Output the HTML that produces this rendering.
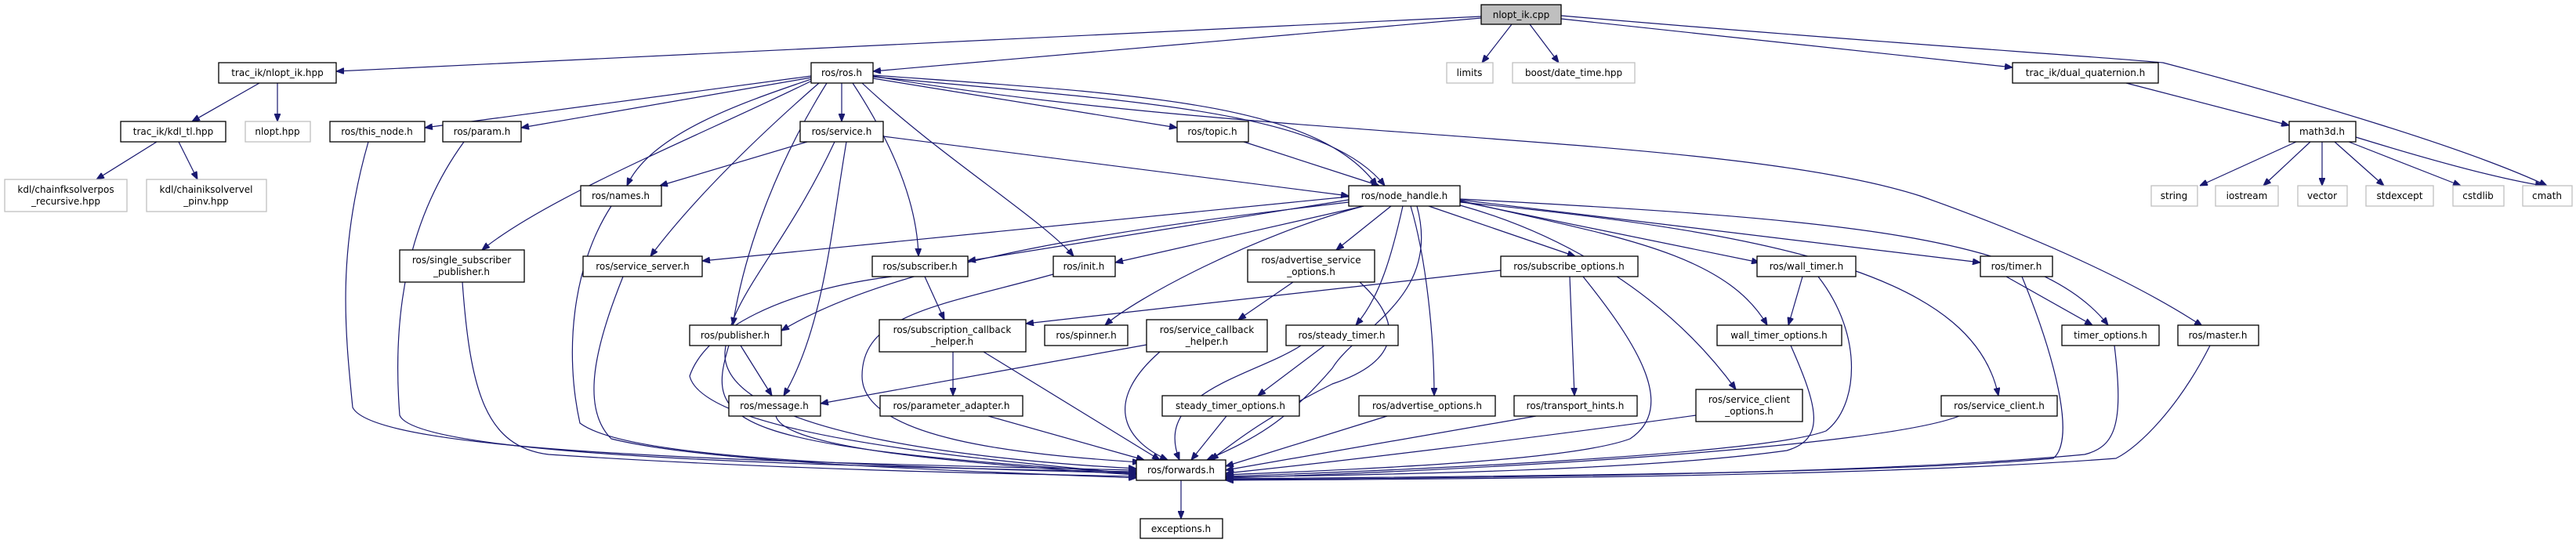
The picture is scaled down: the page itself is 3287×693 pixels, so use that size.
<!DOCTYPE html>
<html><head><meta charset="utf-8"><style>
html,body{margin:0;padding:0;background:#fff;}
svg{display:block;}
text{font-family:"DejaVu Sans","Liberation Sans",sans-serif;font-size:12px;fill:#000;}
.n{fill:#fff;stroke:#000;stroke-width:1.3;}
.g{fill:#fff;stroke:#bfbfbf;stroke-width:1.3;}
.e{fill:none;stroke:#191970;stroke-width:1.2;marker-end:url(#a);}
</style></head><body>
<svg width="3287" height="693" viewBox="0 0 3287 693" xmlns="http://www.w3.org/2000/svg">
<defs><marker id="a" viewBox="0 0 10 8" refX="10" refY="4" markerWidth="10" markerHeight="8" markerUnits="userSpaceOnUse" orient="auto"><path d="M0,0 L10,4 L0,8 z" fill="#191970" stroke="#191970"/></marker></defs>
<g>
<path class="e" d="M1890,21 L429,91"/>
<path class="e" d="M1890,23 L1114,91"/>
<path class="e" d="M1929,31 L1891,80"/>
<path class="e" d="M1952,31 L1989,80"/>
<path class="e" d="M1992,24 L2568,86"/>
<path class="e" d="M1992,20 C2400,55 2650,70 2760,80 C2950,130 3150,190 3250,237"/>
<path class="e" d="M331,106 L245,155"/>
<path class="e" d="M354,106 L354,155"/>
<path class="e" d="M200,181 L123,229"/>
<path class="e" d="M228,181 L252,229"/>
<path class="e" d="M1035,97 L542,163"/>
<path class="e" d="M1035,99 L665,163"/>
<path class="e" d="M1074,106 L1074,155"/>
<path class="e" d="M1038,100 C950,130 830,170 800,237"/>
<path class="e" d="M1036,103 C900,170 700,250 615,319"/>
<path class="e" d="M1045,106 C960,180 880,260 830,327"/>
<path class="e" d="M1055,106 C990,210 950,320 935,415"/>
<path class="e" d="M1088,106 C1130,170 1170,250 1172,327"/>
<path class="e" d="M1100,106 C1200,200 1330,280 1370,327"/>
<path class="e" d="M1114,100 L1502,163"/>
<path class="e" d="M1114,96 C1450,120 1680,130 1757,237"/>
<path class="e" d="M1114,98 C1450,130 1690,140 1767,237"/>
<path class="e" d="M1114,97 C1600,180 2200,170 2450,250 C2620,310 2740,370 2810,416"/>
<path class="e" d="M1030,181 L842,237"/>
<path class="e" d="M1127,174 L1721,250"/>
<path class="e" d="M1080,181 C1060,300 1050,420 1000,505"/>
<path class="e" d="M1065,181 C1000,320 930,380 925,450 C920,560 1300,590 1450,598"/>
<path class="e" d="M1587,181 L1760,237"/>
<path class="e" d="M2713,106 L2921,160"/>
<path class="e" d="M2930,181 L2807,237"/>
<path class="e" d="M2948,181 L2888,237"/>
<path class="e" d="M2963,181 L2963,237"/>
<path class="e" d="M2979,181 L3042,237"/>
<path class="e" d="M2997,181 L3140,237"/>
<path class="e" d="M3006,175 C3120,210 3200,230 3245,237"/>
<path class="e" d="M1721,251 L896,333"/>
<path class="e" d="M1721,255 L1235,333"/>
<path class="e" d="M1740,263 L1423,335"/>
<path class="e" d="M1721,258 C1450,290 1150,330 997,422"/>
<path class="e" d="M1740,263 C1600,300 1450,380 1410,415"/>
<path class="e" d="M1775,263 L1705,319"/>
<path class="e" d="M1790,263 C1775,330 1760,380 1730,415"/>
<path class="e" d="M1800,263 C1820,330 1830,430 1830,505"/>
<path class="e" d="M1823,263 L2010,327"/>
<path class="e" d="M1863,262 C2000,300 2130,380 2215,497"/>
<path class="e" d="M1863,256 C2050,300 2200,320 2255,415"/>
<path class="e" d="M1863,257 L2245,335"/>
<path class="e" d="M1863,255 L2527,335"/>
<path class="e" d="M1863,254 C2350,280 2600,300 2690,415"/>
<path class="e" d="M1863,258 C2300,300 2520,360 2550,505"/>
<path class="e" d="M1808,263 C1840,380 1730,420 1700,470 C1640,540 1600,560 1540,587"/>
<path class="e" d="M1650,360 L1580,408"/>
<path class="e" d="M1735,360 C1790,410 1790,460 1700,490 C1620,530 1580,560 1545,587"/>
<path class="e" d="M1463,440 L1047,515"/>
<path class="e" d="M1480,449 C1410,510 1430,560 1490,587"/>
<path class="e" d="M1180,353 L1205,408"/>
<path class="e" d="M1216,449 L1216,505"/>
<path class="e" d="M1255,449 L1480,587"/>
<path class="e" d="M1261,531 L1460,587"/>
<path class="e" d="M945,441 L985,505"/>
<path class="e" d="M930,441 C900,540 920,570 1450,604"/>
<path class="e" d="M990,531 C1000,570 1200,590 1450,606"/>
<path class="e" d="M1690,441 L1605,505"/>
<path class="e" d="M1660,441 C1600,480 1470,500 1505,587"/>
<path class="e" d="M1565,531 L1520,587"/>
<path class="e" d="M1770,531 L1564,595"/>
<path class="e" d="M1960,531 L1564,600"/>
<path class="e" d="M2164,530 C1950,560 1700,590 1564,604"/>
<path class="e" d="M2003,353 L2009,505"/>
<path class="e" d="M2020,353 C2090,440 2140,520 2080,560 C2000,590 1700,600 1564,606"/>
<path class="e" d="M1915,345 L1309,413"/>
<path class="e" d="M2300,353 L2282,415"/>
<path class="e" d="M2320,353 C2380,430 2370,520 2330,550 C2250,580 1800,600 1564,608"/>
<path class="e" d="M2285,441 C2320,520 2330,560 2280,575 C2100,600 1800,605 1564,609"/>
<path class="e" d="M2500,531 C2400,570 1900,600 1564,610"/>
<path class="e" d="M2580,353 C2620,450 2650,560 2620,585 C2400,605 1900,608 1564,611"/>
<path class="e" d="M2560,353 L2670,415"/>
<path class="e" d="M2698,441 C2710,540 2700,570 2660,580 C2400,605 1900,610 1564,612"/>
<path class="e" d="M2820,441 C2780,520 2730,570 2700,585 C2400,608 1900,611 1564,613"/>
<path class="e" d="M470,181 C430,320 440,420 450,520 C480,580 1000,590 1450,600"/>
<path class="e" d="M592,181 C520,280 500,400 510,530 C530,580 1000,595 1450,602"/>
<path class="e" d="M780,263 C730,340 720,450 740,540 C800,585 1100,595 1450,604"/>
<path class="e" d="M590,360 C600,500 620,570 700,580 C1000,600 1300,605 1450,608"/>
<path class="e" d="M795,353 C760,440 740,520 780,560 C900,590 1200,600 1450,610"/>
<path class="e" d="M1138,353 C1000,370 900,420 880,480 C900,560 1300,590 1450,605"/>
<path class="e" d="M1344,350 C1200,390 1100,400 1100,480 C1100,560 1300,580 1455,590"/>
<path class="e" d="M1507,613 L1507,662"/>
</g>
<rect x="1890" y="6" width="102" height="25" fill="#bfbfbf" stroke="#000" stroke-width="1.3"/><text x="1941" y="23" text-anchor="middle">nlopt_ik.cpp</text>
<rect class="n" x="279" y="80" width="150" height="26"/><text x="354" y="97" text-anchor="middle">trac_ik/nlopt_ik.hpp</text>
<rect class="n" x="1035" y="80" width="79" height="26"/><text x="1074" y="97" text-anchor="middle">ros/ros.h</text>
<rect class="g" x="1846" y="80" width="59" height="26"/><text x="1875" y="97" text-anchor="middle">limits</text>
<rect class="g" x="1930" y="80" width="156" height="26"/><text x="2008" y="97" text-anchor="middle">boost/date_time.hpp</text>
<rect class="n" x="2568" y="80" width="186" height="26"/><text x="2661" y="97" text-anchor="middle">trac_ik/dual_quaternion.h</text>
<rect class="n" x="154" y="155" width="134" height="26"/><text x="221" y="172" text-anchor="middle">trac_ik/kdl_tl.hpp</text>
<rect class="g" x="313" y="155" width="83" height="26"/><text x="354" y="172" text-anchor="middle">nlopt.hpp</text>
<rect class="n" x="421" y="155" width="121" height="26"/><text x="481" y="172" text-anchor="middle">ros/this_node.h</text>
<rect class="n" x="565" y="155" width="100" height="26"/><text x="615" y="172" text-anchor="middle">ros/param.h</text>
<rect class="n" x="1021" y="155" width="106" height="26"/><text x="1074" y="172" text-anchor="middle">ros/service.h</text>
<rect class="n" x="1502" y="155" width="91" height="26"/><text x="1547" y="172" text-anchor="middle">ros/topic.h</text>
<rect class="n" x="2921" y="155" width="85" height="26"/><text x="2963" y="172" text-anchor="middle">math3d.h</text>
<rect class="g" x="6" y="229" width="156" height="41"/><text x="84" y="246" text-anchor="middle">kdl/chainfksolverpos</text><text x="84" y="261" text-anchor="middle">_recursive.hpp</text>
<rect class="g" x="187" y="229" width="153" height="41"/><text x="263" y="246" text-anchor="middle">kdl/chainiksolvervel</text><text x="263" y="261" text-anchor="middle">_pinv.hpp</text>
<rect class="n" x="741" y="237" width="103" height="26"/><text x="792" y="254" text-anchor="middle">ros/names.h</text>
<rect class="n" x="1721" y="237" width="142" height="26"/><text x="1792" y="254" text-anchor="middle">ros/node_handle.h</text>
<rect class="g" x="2745" y="237" width="59" height="26"/><text x="2774" y="254" text-anchor="middle">string</text>
<rect class="g" x="2827" y="237" width="80" height="26"/><text x="2867" y="254" text-anchor="middle">iostream</text>
<rect class="g" x="2932" y="237" width="63" height="26"/><text x="2963" y="254" text-anchor="middle">vector</text>
<rect class="g" x="3019" y="237" width="86" height="26"/><text x="3062" y="254" text-anchor="middle">stdexcept</text>
<rect class="g" x="3130" y="237" width="65" height="26"/><text x="3162" y="254" text-anchor="middle">cstdlib</text>
<rect class="g" x="3219" y="237" width="63" height="26"/><text x="3250" y="254" text-anchor="middle">cmath</text>
<rect class="n" x="510" y="319" width="159" height="41"/><text x="589" y="336" text-anchor="middle">ros/single_subscriber</text><text x="589" y="351" text-anchor="middle">_publisher.h</text>
<rect class="n" x="744" y="327" width="152" height="26"/><text x="820" y="344" text-anchor="middle">ros/service_server.h</text>
<rect class="n" x="1113" y="327" width="122" height="26"/><text x="1174" y="344" text-anchor="middle">ros/subscriber.h</text>
<rect class="n" x="1344" y="327" width="79" height="26"/><text x="1383" y="344" text-anchor="middle">ros/init.h</text>
<rect class="n" x="1592" y="319" width="162" height="41"/><text x="1673" y="336" text-anchor="middle">ros/advertise_service</text><text x="1673" y="351" text-anchor="middle">_options.h</text>
<rect class="n" x="1915" y="327" width="175" height="26"/><text x="2002" y="344" text-anchor="middle">ros/subscribe_options.h</text>
<rect class="n" x="2242" y="327" width="126" height="26"/><text x="2305" y="344" text-anchor="middle">ros/wall_timer.h</text>
<rect class="n" x="2527" y="327" width="92" height="26"/><text x="2573" y="344" text-anchor="middle">ros/timer.h</text>
<rect class="n" x="880" y="415" width="117" height="26"/><text x="938" y="432" text-anchor="middle">ros/publisher.h</text>
<rect class="n" x="1122" y="408" width="187" height="41"/><text x="1215" y="425" text-anchor="middle">ros/subscription_callback</text><text x="1215" y="440" text-anchor="middle">_helper.h</text>
<rect class="n" x="1333" y="415" width="106" height="26"/><text x="1386" y="432" text-anchor="middle">ros/spinner.h</text>
<rect class="n" x="1463" y="408" width="154" height="41"/><text x="1540" y="425" text-anchor="middle">ros/service_callback</text><text x="1540" y="440" text-anchor="middle">_helper.h</text>
<rect class="n" x="1641" y="415" width="143" height="26"/><text x="1712" y="432" text-anchor="middle">ros/steady_timer.h</text>
<rect class="n" x="2191" y="415" width="159" height="26"/><text x="2270" y="432" text-anchor="middle">wall_timer_options.h</text>
<rect class="n" x="2631" y="415" width="124" height="26"/><text x="2693" y="432" text-anchor="middle">timer_options.h</text>
<rect class="n" x="2779" y="415" width="103" height="26"/><text x="2830" y="432" text-anchor="middle">ros/master.h</text>
<rect class="n" x="930" y="505" width="117" height="26"/><text x="988" y="522" text-anchor="middle">ros/message.h</text>
<rect class="n" x="1123" y="505" width="182" height="26"/><text x="1214" y="522" text-anchor="middle">ros/parameter_adapter.h</text>
<rect class="n" x="1483" y="505" width="175" height="26"/><text x="1570" y="522" text-anchor="middle">steady_timer_options.h</text>
<rect class="n" x="1734" y="505" width="174" height="26"/><text x="1821" y="522" text-anchor="middle">ros/advertise_options.h</text>
<rect class="n" x="1932" y="505" width="157" height="26"/><text x="2010" y="522" text-anchor="middle">ros/transport_hints.h</text>
<rect class="n" x="2164" y="497" width="136" height="41"/><text x="2232" y="514" text-anchor="middle">ros/service_client</text><text x="2232" y="529" text-anchor="middle">_options.h</text>
<rect class="n" x="2477" y="505" width="148" height="26"/><text x="2551" y="522" text-anchor="middle">ros/service_client.h</text>
<rect class="n" x="1450" y="587" width="114" height="26"/><text x="1507" y="604" text-anchor="middle">ros/forwards.h</text>
<rect class="n" x="1455" y="662" width="105" height="25"/><text x="1507" y="679" text-anchor="middle">exceptions.h</text>
</svg>
</body></html>
